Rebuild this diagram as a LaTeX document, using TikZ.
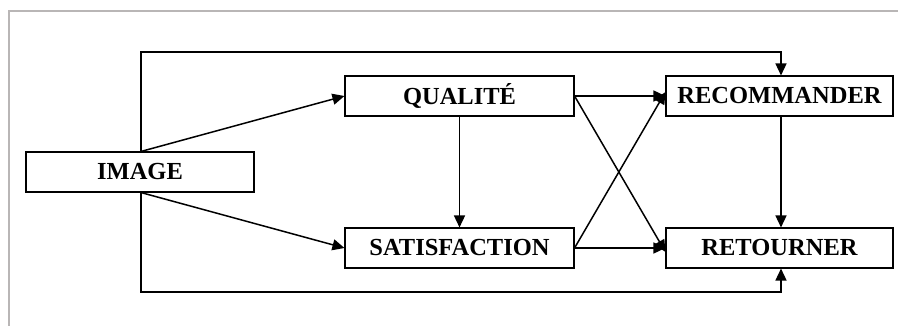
\documentclass[tikz,border=0pt]{standalone}
\usepackage{fontspec}
\setmainfont{Liberation Serif}
\usetikzlibrary{arrows.meta}
\begin{document}
\begin{tikzpicture}[x=1pt,y=-1pt,
  box/.style={draw,line width=1.1pt,minimum height=40pt,inner sep=0pt,font=\fontsize{24.5}{26}\selectfont\bfseries},
  conn/.style={line width=1.5pt,-{Triangle[length=12pt,width=11pt]}}]
\useasboundingbox (0,0) rectangle (898,326);
\draw[line width=2pt,color={rgb,255:red,185;green,182;blue,182}] (9,326) -- (9,11) -- (898,11);
\node[box,minimum width=228pt] (img) at (140,172) {IMAGE};
\node[box,minimum width=229pt] (qua) at (459.5,96) {QUALITÉ};
\node[box,minimum width=229pt] (sat) at (459.5,248) {SATISFACTION};
\node[box,minimum width=227pt] (rec) at (779.5,96) {RECOMMANDER};
\node[box,minimum width=227pt] (ret) at (779.5,248) {RETOURNER};
\coordinate (tl) at (141,52);
\coordinate (tr) at (781,52);
\coordinate (bl) at (141,292);
\coordinate (br) at (781,292);
\draw[conn] (img.north -| tl) -- (tl) -- (tr) -- (rec.north -| tr);
\draw[conn] (img.south -| bl) -- (bl) -- (br) -- (ret.south -| br);
\draw[conn] (img.north -| tl) -- (qua.west);
\draw[conn] (img.south -| bl) -- (sat.west);
\draw[conn] (qua) -- (sat);
\draw[conn] (rec.south -| tr) -- (ret.north -| tr);
\draw[conn] (qua.east) -- (rec.west);
\draw[conn] (sat.east) -- (ret.west);
\draw[conn] (qua.east) -- ([yshift=-4pt]ret.west);
\draw[conn] (sat.east) -- ([yshift=4pt]rec.west);
\end{tikzpicture}
\end{document}
